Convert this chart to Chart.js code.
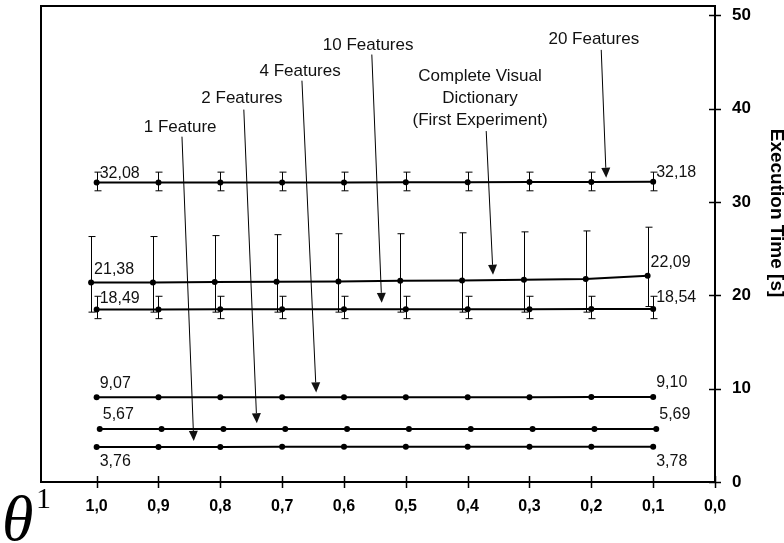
<!DOCTYPE html>
<html>
<head>
<meta charset="utf-8">
<title>Execution Time</title>
<script src="https://cdn.jsdelivr.net/npm/chart.js@4.4.0/dist/chart.umd.min.js"></script>
<style>
  body { margin: 0; background: #fff; }
  #wrap { position: relative; width: 784px; height: 543px; }
</style>
</head>
<body>
<div id="wrap"><canvas id="myChart"></canvas></div>
<script>
//   Data
const theta = [1.0, 0.9, 0.8, 0.7, 0.6, 0.5, 0.4, 0.3, 0.2, 0.1];
const thetaTicks = [1.0, 0.9, 0.8, 0.7, 0.6, 0.5, 0.4, 0.3, 0.2, 0.1, 0.0];
const timeTicks = [0, 10, 20, 30, 40, 50];

const oneFeature = [3.76, 3.76, 3.76, 3.77, 3.77, 3.77, 3.77, 3.78, 3.78, 3.78];
const twoFeatures = [5.67, 5.67, 5.68, 5.68, 5.68, 5.68, 5.68, 5.69, 5.69, 5.69];
const fourFeatures = [9.07, 9.07, 9.08, 9.08, 9.08, 9.09, 9.09, 9.09, 9.10, 9.10];
const tenFeatures = [18.49, 18.49, 18.5, 18.5, 18.51, 18.51, 18.52, 18.52, 18.53, 18.54];
const tenFeaturesLow = [17.5, 17.5, 17.5, 17.5, 17.5, 17.5, 17.5, 17.5, 17.5, 17.5];
const tenFeaturesHigh = [19.9, 19.9, 19.9, 19.9, 19.9, 19.9, 19.9, 19.9, 19.9, 19.9];
const twentyFeatures = [32.08, 32.08, 32.09, 32.1, 32.1, 32.11, 32.12, 32.13, 32.15, 32.18];
const twentyFeaturesLow = [31.2, 31.2, 31.2, 31.2, 31.2, 31.2, 31.2, 31.2, 31.2, 31.2];
const twentyFeaturesHigh = [33.2, 33.2, 33.2, 33.2, 33.2, 33.2, 33.2, 33.2, 33.2, 33.2];
const completeDictionary = [21.38, 21.38, 21.42, 21.45, 21.49, 21.56, 21.59, 21.67, 21.74, 22.09];
const completeDictionaryLow = [18.2, 18.2, 18.2, 18.2, 18.2, 18.2, 18.2, 18.2, 18.2, 18.8];
const completeDictionaryHigh = [26.3, 26.3, 26.4, 26.5, 26.6, 26.6, 26.7, 26.8, 26.9, 27.3];

// callouts, placed in (theta, seconds)
const notes = [
  { text: ["1 Feature"], at: [0.865, 38.0], from: [0.862, 37.0], to: [0.843, 4.4] },
  { text: ["2 Features"], at: [0.765, 41.1], from: [0.762, 39.9], to: [0.741, 6.3] },
  { text: ["4 Features"], at: [0.671, 44.0], from: [0.668, 43.0], to: [0.645, 9.6] },
  { text: ["10 Features"], at: [0.561, 46.8], from: [0.555, 45.8], to: [0.539, 19.2] },
  {
    text: ["Complete Visual", "Dictionary", "(First Experiment)"],
    at: [0.38, 41.1],
    from: [0.37, 37.6],
    to: [0.359, 22.2],
  },
  { text: ["20 Features"], at: [0.196, 47.4], from: [0.184, 46.3], to: [0.176, 32.6] },
];

const ink = "#000";
const comma = (v, d) => v.toFixed(d).replace(".", ",");

function series(values, opts) {
  const shift = opts.shift || 0;
  return {
    data: theta.map((t, i) => ({ x: t + shift, y: values[i] })),
    borderColor: ink,
    borderWidth: 2,
    pointRadius: 3,
    pointHoverRadius: 3,
    pointBackgroundColor: ink,
    pointBorderWidth: 0,
    tension: 0,
    labelDy: opts.labelDy || -12,
    low: opts.low,
    high: opts.high,
  };
}

// frame, axis tick crosses, error bars, end labels, callouts
const decorations = {
  id: "decorations",
  afterDraw(chart) {
    const { ctx, chartArea: a, scales } = chart;
    const xs = scales.x;
    const ys = scales.y;
    ctx.save();
    ctx.strokeStyle = ink;
    ctx.fillStyle = ink;

    ctx.lineWidth = 2;
    ctx.strokeRect(a.left, a.top, a.right - a.left, a.bottom - a.top);

    ctx.lineWidth = 1.5;
    ctx.beginPath();
    thetaTicks.forEach((t) => {
      const x = Math.round(xs.getPixelForValue(t)) + 0.5;
      ctx.moveTo(x, a.bottom - 6);
      ctx.lineTo(x, a.bottom + 6);
    });
    timeTicks.forEach((v) => {
      const y = Math.round(ys.getPixelForValue(v)) + 0.5;
      ctx.moveTo(a.right - 6, y);
      ctx.lineTo(a.right + 6, y);
    });
    ctx.stroke();

    // error bars
    ctx.lineWidth = 1;
    chart.data.datasets.forEach((ds, di) => {
      if (!ds.low) return;
      const pts = chart.getDatasetMeta(di).data;
      ctx.beginPath();
      pts.forEach((p, i) => {
        const x = Math.round(p.x) + 0.5;
        const y1 = ys.getPixelForValue(ds.high[i]);
        const y2 = ys.getPixelForValue(ds.low[i]);
        ctx.moveTo(x, y1);
        ctx.lineTo(x, y2);
        ctx.moveTo(x - 3, y1);
        ctx.lineTo(x + 4, y1);
        ctx.moveTo(x - 3, y2);
        ctx.lineTo(x + 4, y2);
      });
      ctx.stroke();
    });

    // first / last values
    ctx.font = '16px "Liberation Sans", Arial, sans-serif';
    ctx.textAlign = "left";
    ctx.textBaseline = "middle";
    ctx.fillStyle = "#111";
    chart.data.datasets.forEach((ds, di) => {
      const pts = chart.getDatasetMeta(di).data;
      [0, pts.length - 1].forEach((i) => {
        ctx.fillText(comma(ds.data[i].y, 2), pts[i].x + 3, pts[i].y + ds.labelDy);
      });
    });

    // callouts with arrows
    ctx.font = '17px "Liberation Sans", Arial, sans-serif';
    ctx.textAlign = "center";
    notes.forEach((n) => {
      const tx = xs.getPixelForValue(n.at[0]);
      const ty = ys.getPixelForValue(n.at[1]);
      const top = ty - ((n.text.length - 1) * 22) / 2;
      n.text.forEach((line, i) => ctx.fillText(line, tx, top + i * 22));

      const x1 = xs.getPixelForValue(n.from[0]);
      const y1 = ys.getPixelForValue(n.from[1]);
      const x2 = xs.getPixelForValue(n.to[0]);
      const y2 = ys.getPixelForValue(n.to[1]);
      const ang = Math.atan2(y2 - y1, x2 - x1);
      const len = 10;
      const bx = x2 - len * Math.cos(ang);
      const by = y2 - len * Math.sin(ang);
      ctx.beginPath();
      ctx.moveTo(x1, y1);
      ctx.lineTo(bx, by);
      ctx.stroke();
      ctx.beginPath();
      ctx.moveTo(x2, y2);
      ctx.lineTo(bx + 4.5 * Math.sin(ang), by - 4.5 * Math.cos(ang));
      ctx.lineTo(bx - 4.5 * Math.sin(ang), by + 4.5 * Math.cos(ang));
      ctx.closePath();
      ctx.fill();
    });

    // axis title on the right, reading downwards
    ctx.fillStyle = ink;
    ctx.font = 'bold 19px "Liberation Sans", Arial, sans-serif';
    ctx.translate(776, 213);
    ctx.rotate(Math.PI / 2);
    ctx.fillText("Execution Time [s]", 0, 0);
    ctx.restore();

    // theta superscript 1 under the left edge
    ctx.save();
    ctx.fillStyle = ink;
    ctx.textAlign = "left";
    ctx.textBaseline = "alphabetic";
    ctx.font = 'italic 64px "Liberation Serif", serif';
    ctx.fillText("θ", 2, 540);
    ctx.font = '30px "Liberation Serif", serif';
    ctx.fillText("1", 36, 508);
    ctx.restore();
  },
};

//   Chart

const ctx = document.getElementById("myChart");

new Chart(ctx, {
  type: "line",
  data: {
    datasets: [
      series(oneFeature, { labelDy: 15 }),
      series(twoFeatures, { shift: -0.005, labelDy: -14 }),
      series(fourFeatures, { labelDy: -14 }),
      series(tenFeatures, { low: tenFeaturesLow, high: tenFeaturesHigh, labelDy: -11 }),
      series(completeDictionary, {
        shift: 0.009,
        low: completeDictionaryLow,
        high: completeDictionaryHigh,
        labelDy: -13,
      }),
      series(twentyFeatures, { low: twentyFeaturesLow, high: twentyFeaturesHigh, labelDy: -9 }),
    ],
  },
  options: {
    responsive: true,
    maintainAspectRatio: false,
    animation: false,
    layout: { padding: { left: 41, top: 6, right: 0, bottom: 0 } },
    plugins: {
      legend: { display: false },
      tooltip: { enabled: false },
    },
    scales: {
      x: {
        type: "linear",
        reverse: true,
        min: 0,
        max: 1.09,
        grid: { display: false, drawTicks: false },
        border: { display: false },
        afterBuildTicks: (scale) => {
          scale.ticks = thetaTicks.map((v) => ({ value: v }));
        },
        afterFit: (scale) => {
          scale.height = 61;
          scale.paddingLeft = 0;
          scale.paddingRight = 0;
        },
        ticks: {
          padding: 15,
          color: ink,
          maxRotation: 0,
          font: { family: '"Liberation Sans", Arial, sans-serif', size: 16, weight: "bold" },
          callback: (v) => comma(v, 1),
        },
      },
      y: {
        position: "right",
        min: 0,
        max: 51,
        grid: { display: false, drawTicks: false },
        border: { display: false },
        afterBuildTicks: (scale) => {
          scale.ticks = timeTicks.map((v) => ({ value: v }));
        },
        afterFit: (scale) => {
          scale.width = 69;
          scale.paddingTop = 0;
          scale.paddingBottom = 0;
        },
        ticks: {
          padding: 17,
          color: ink,
          font: { family: '"Liberation Sans", Arial, sans-serif', size: 17, weight: "bold" },
        },
      },
    },
  },
  plugins: [decorations],
});
</script>
</body>
</html>
